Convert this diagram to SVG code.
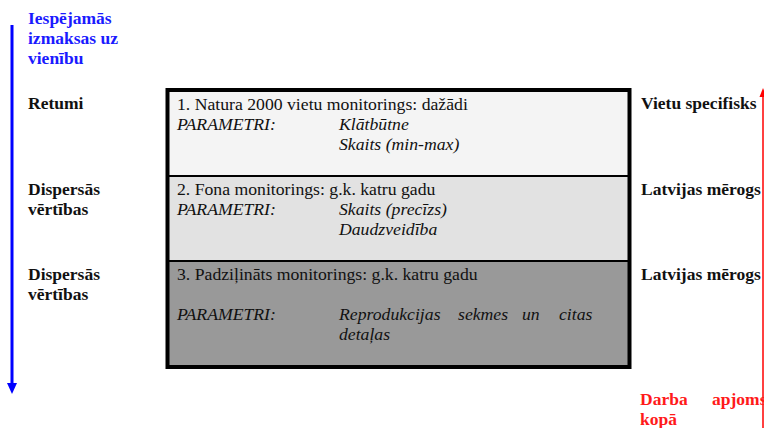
<svg xmlns="http://www.w3.org/2000/svg" width="764" height="428" viewBox="0 0 764 428">
<style>
.lbl{font-family:"Liberation Serif","Times New Roman",serif;font-weight:bold;font-size:17.5px;fill:#111}
.blue{fill:#1a1aff}
.red{fill:#ff1a1a}
.t{font-family:"Liberation Serif","Times New Roman",serif;font-size:17.7px;fill:#111}
.i{font-style:italic}
.row{stroke:#000;stroke-width:2}
</style>
<rect width="764" height="428" fill="#fff"/>
<g id="connectors">
<line x1="12" y1="25" x2="12" y2="384" stroke="#0000ff" stroke-width="3"/>
<path d="M7,383 L17,383 L12,394 Z" fill="#0000ff"/>
<line x1="763" y1="96" x2="763" y2="428" stroke="#ff0000" stroke-width="1.5"/>
<path d="M759.5,97 L763,88 L766.5,97 Z" fill="#ff0000"/>
</g>
<g id="axis-left-title">
<text class="lbl blue" x="28" y="24">Iespējamās</text>
<text class="lbl blue" x="28" y="44">izmaksas uz</text>
<text class="lbl blue" x="28" y="64">vienību</text>
</g>
<g id="left-labels">
<text class="lbl" x="28" y="109">Retumi</text>
<text class="lbl" x="28" y="195">Dispersās</text>
<text class="lbl" x="28" y="215">vērtības</text>
<text class="lbl" x="28" y="280">Dispersās</text>
<text class="lbl" x="28" y="300">vērtības</text>
</g>
<g id="box">
<rect x="167" y="89.5" width="463" height="278" fill="none" stroke="#000" stroke-width="3"/>
</g>
<g id="row1">
<rect class="row" x="168.5" y="91" width="460" height="85" fill="#f4f4f4"/>
<text class="t" x="177" y="110">1. Natura 2000 vietu monitorings: dažādi</text>
<text class="t i" x="177" y="130">PARAMETRI:</text>
<text class="t i" x="339" y="130">Klātbūtne</text>
<text class="t i" x="339" y="150">Skaits (min-max)</text>
</g>
<g id="row2">
<rect class="row" x="168.5" y="176" width="460" height="85" fill="#e2e2e2"/>
<text class="t" x="177" y="195">2. Fona monitorings: g.k. katru gadu</text>
<text class="t i" x="177" y="215">PARAMETRI:</text>
<text class="t i" x="339" y="215">Skaits (precīzs)</text>
<text class="t i" x="339" y="235">Daudzveidība</text>
</g>
<g id="row3">
<rect class="row" x="168.5" y="261" width="460" height="105" fill="#999999"/>
<text class="t" x="177" y="280">3. Padziļināts monitorings: g.k. katru gadu</text>
<text class="t i" x="177" y="320">PARAMETRI:</text>
<text class="t i" x="339" y="320">Reprodukcijas</text>
<text class="t i" x="458" y="320">sekmes</text>
<text class="t i" x="522" y="320">un</text>
<text class="t i" x="559" y="320">citas</text>
<text class="t i" x="339" y="340">detaļas</text>
</g>
<g id="right-labels">
<text class="lbl" x="641" y="109">Vietu specifisks</text>
<text class="lbl" x="641" y="195">Latvijas mērogs</text>
<text class="lbl" x="641" y="280">Latvijas mērogs</text>
</g>
<g id="axis-right-title">
<text class="lbl red" x="640" y="405">Darba</text>
<text class="lbl red" x="712" y="405">apjoms</text>
<text class="lbl red" x="640" y="425">kopā</text>
</g>
</svg>
